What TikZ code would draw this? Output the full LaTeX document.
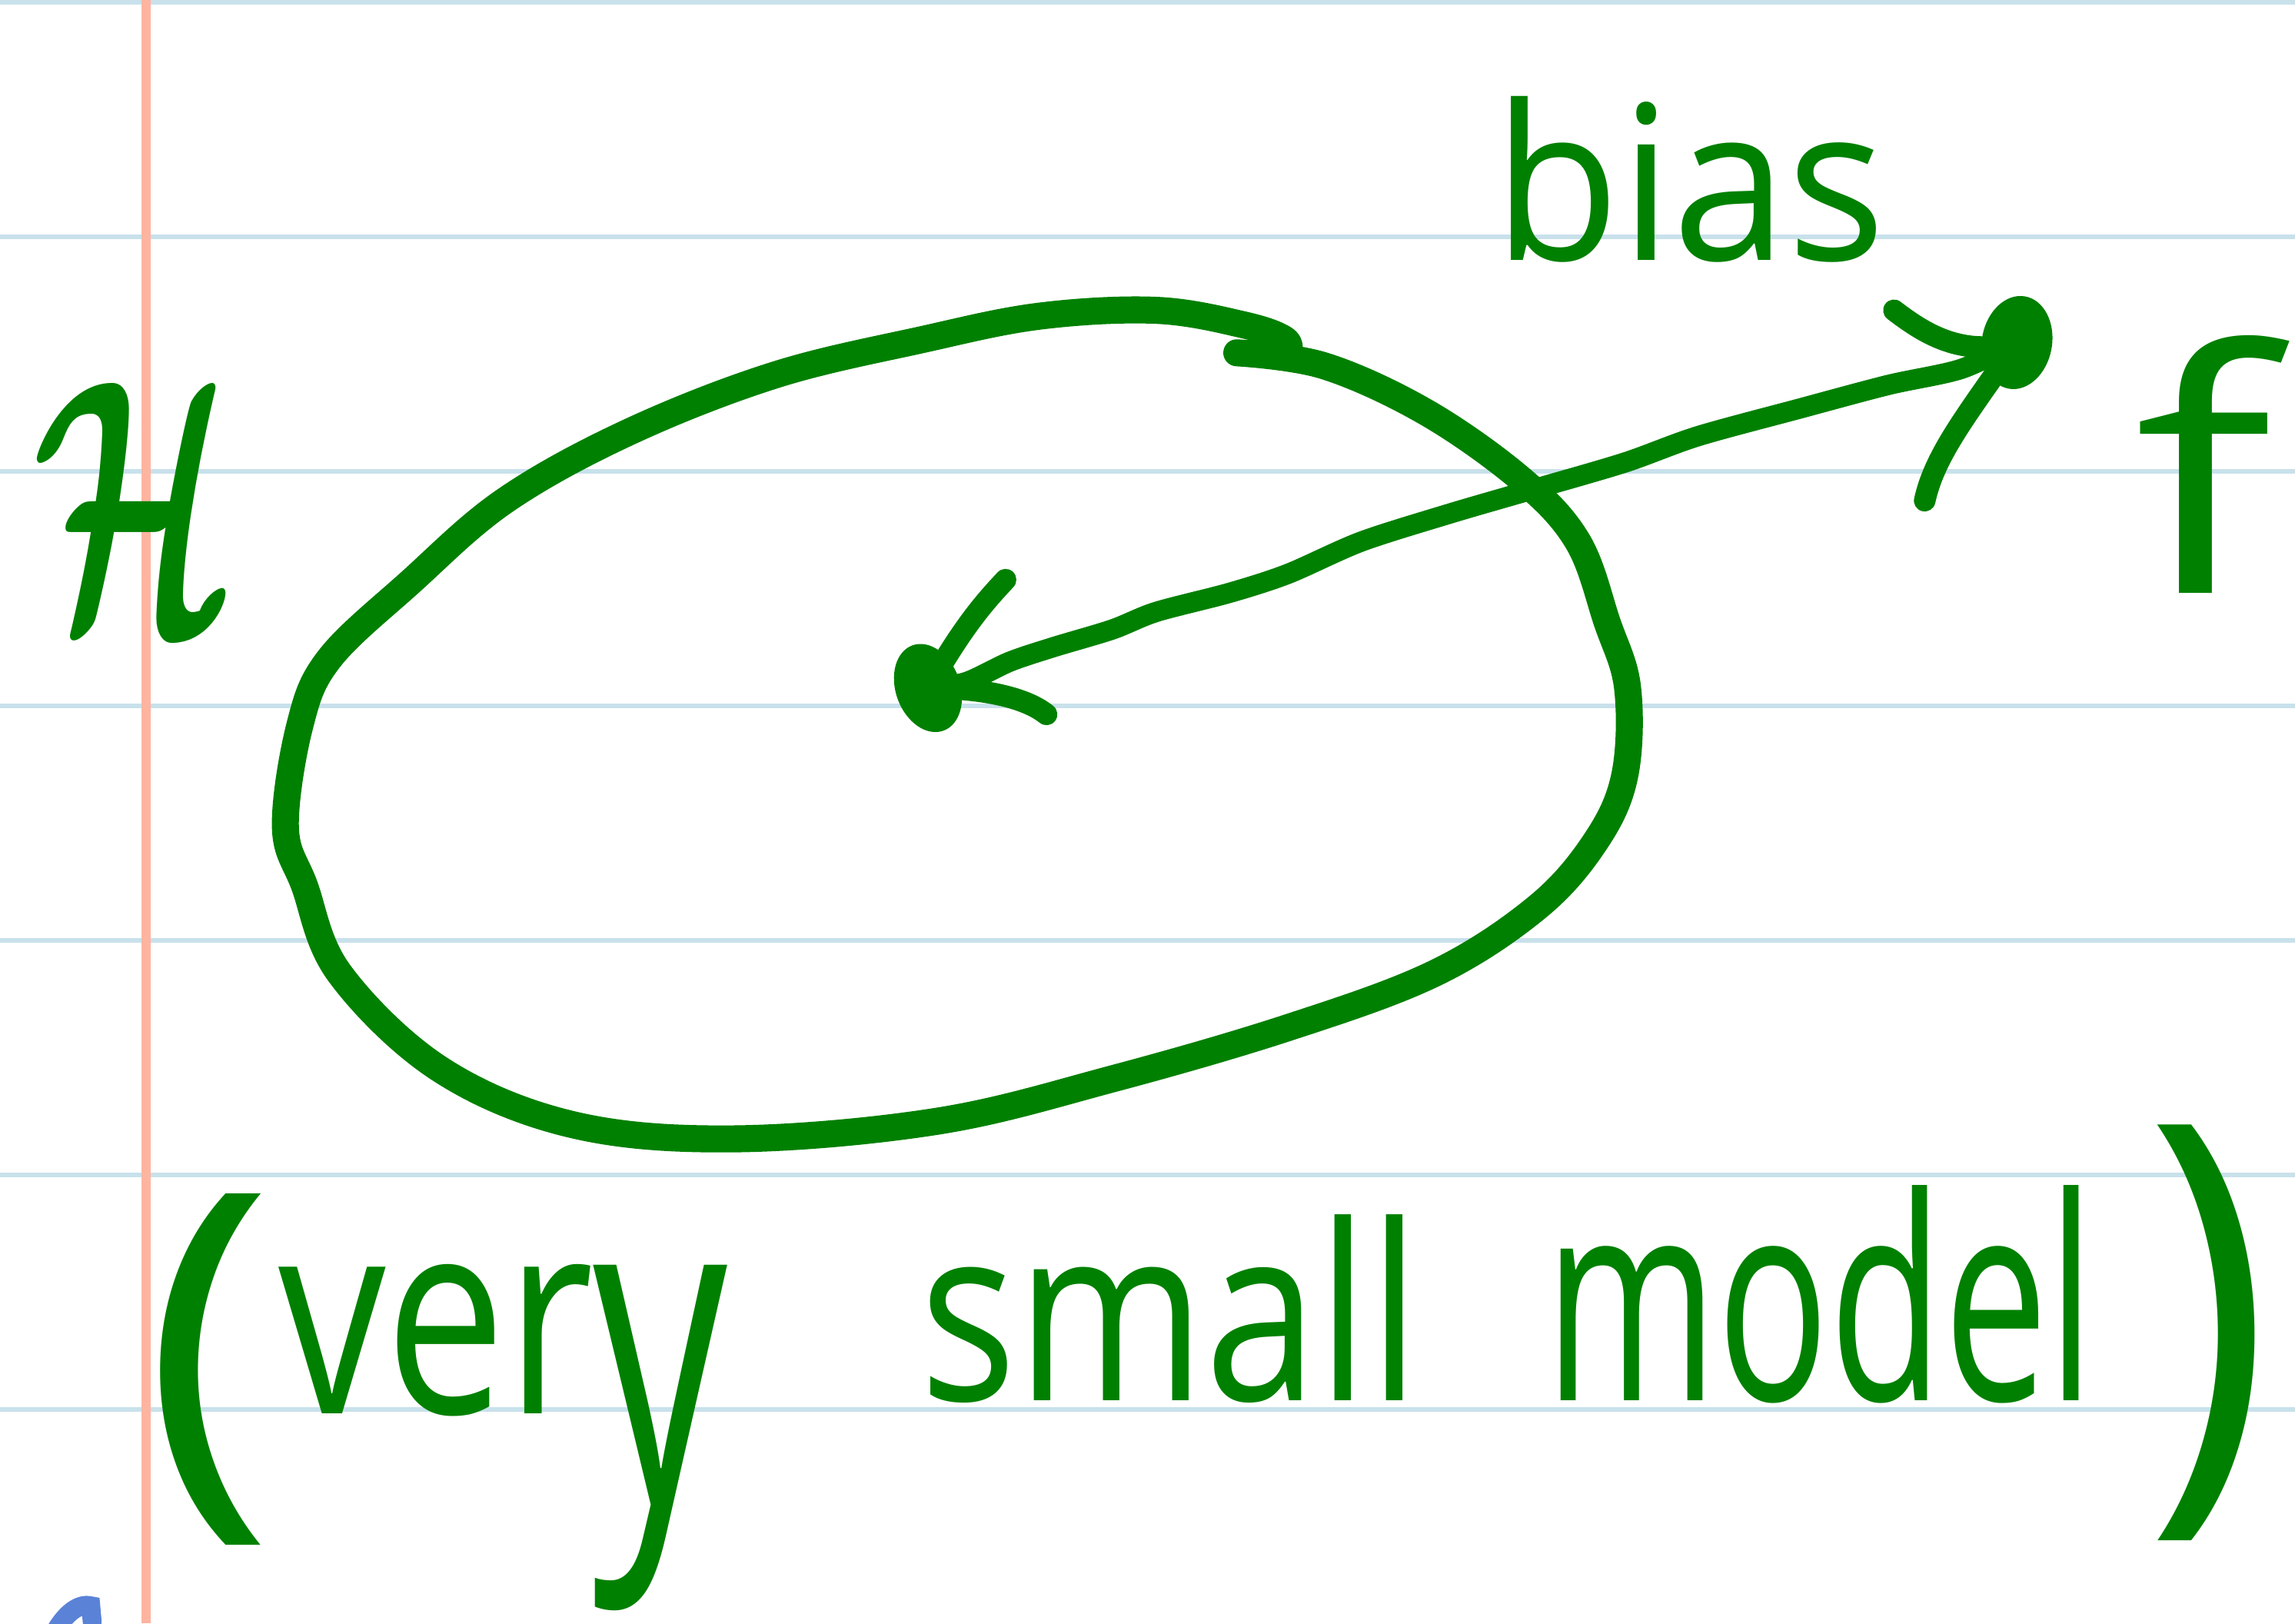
\documentclass[tikz,border=0pt]{standalone}
\usepackage{fontspec}
\setmainfont{Open Sans}
\usepackage{graphicx}
\usepackage{bm}
\usetikzlibrary{shapes.geometric}
\definecolor{ink}{RGB}{0,128,0}
\definecolor{rulecol}{RGB}{200,225,235}
\definecolor{margincol}{RGB}{255,180,160}
\definecolor{bluepen}{RGB}{90,130,215}
\newdimen\px \px=0.019037cm
\begin{document}
\begin{tikzpicture}[x=0.019037cm,y=-0.019037cm,
  ruled/.style={draw=rulecol, line width=1.5pt},
  marginline/.style={draw=margincol, line width=3.2pt},
  blobpen/.style={draw=ink, line width=10pt, line cap=round, line join=round},
  conn/.style={draw=ink, line width=7.5pt, line cap=round, line join=round},
  headstroke/.style={draw=ink, line width=8pt, line cap=round, line join=round},
  dotnode/.style={ellipse, fill=ink, inner sep=0},
  word/.style={inner sep=0, anchor=base west, text=ink}]
\fill[white] (0,0) rectangle (1568,1109);
\useasboundingbox (0,0) rectangle (1568,1109);
% ruled paper
\foreach \yy in {1.6,161.8,322,482.2,642.4,802.6,962.9}
  \draw[ruled] (0,\yy) -- (1568,\yy);
\draw[marginline] (99.8,0) -- (99.8,1109);
% stray blue mark
\draw[draw=bluepen, line width=7pt, line cap=round] (38,1114) .. controls (45,1102) and (54,1095) .. (62,1097) -- (63,1108);
% hypothesis set blob
\draw[blobpen] plot[smooth, tension=0.6] coordinates {(845,241) (905,250) (975,282) (1040,328) (1078,370) (1098,425) (1112,470) (1110,530) (1090,575) (1050,620) (980,665) (880,702) (760,737) (640,766) (500,778) (390,768) (300,730) (232,665) (208,605) (195,565) (205,495) (225,450) (280,398) (345,342) (430,295) (530,256) (630,232) (710,216) (790,212) (850,222) (878,232) (880,242)};
% dots
\node[dotnode, minimum width=44\px, minimum height=62\px, rotate=20] (cdot) at (634,470) {};
\node[dotnode, minimum width=48\px, minimum height=64\px, rotate=-10] (fdot) at (1378,234) {};
% connector
\draw[conn] plot[smooth] coordinates {(fdot.center) (1340,252) (1290,263) (1230,279) (1160,298) (1110,316) (1045,335) (990,351) (930,370) (880,392) (840,405) (790,418) (760,430) (720,442) (690,452) (660,466) (cdot.center)};
% arrowheads
\draw[headstroke] (687,396) .. controls (672,412) and (658,428) .. (cdot.center);
\draw[headstroke] (cdot.center) .. controls (670,470) and (700,476) .. (715,488);
\draw[headstroke] (1294,212) .. controls (1315,228) and (1340,244) .. (fdot.center);
\draw[headstroke] (1315,342) .. controls (1322,310) and (1345,282) .. (fdot.center);
% labels
\node[word] (bias) at (1020,178) {\resizebox{268\px}{112\px}{bias}};
\node[word] (H) at (22,428) {\resizebox{138\px}{166\px}{$\bm{\mathcal{H}}$}};
\node[word] (f) at (1458,405) {\resizebox{94\px}{176\px}{f}};
\node[word, anchor=north west] (lp) at (97,815) {\resizebox*{90\px}{240\px}{(}};
\node[word] (very) at (190,966) {\resizebox{215\px}{102\px}{ver}\raisebox{102\px}{\raisebox{-\height}{\resizebox*{92\px}{236\px}{y}}}};
\node[word] (small) at (628,957) {\resizebox{342\px}{127\px}{small}};
\node[word] (model) at (1055,957) {\resizebox{376\px}{147\px}{model}};
\node[word, anchor=north west] (rp) at (1465,768) {\resizebox*{87\px}{284\px}{)}};
\end{tikzpicture}
\end{document}
